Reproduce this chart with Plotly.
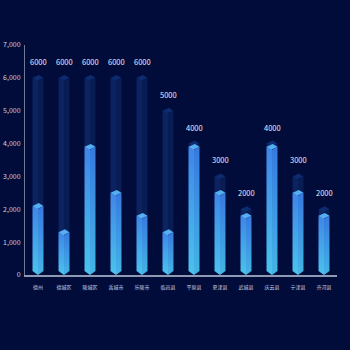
import plotly.graph_objects as go

categories = ["德州", "德城区", "陵城区", "禹城市", "乐陵市", "临邑县",
              "平原县", "夏津县", "武城县", "庆云县", "宁津县", "齐河县"]
target_values = [6000, 6000, 6000, 6000, 6000, 5000, 4000, 3000, 2000, 4000, 3000, 2000]
actual_values = [2100, 1300, 3900, 2500, 1800, 1300, 3900, 2500, 1800, 3900, 2500, 1800]
y_ticks = [0, 1000, 2000, 3000, 4000, 5000, 6000, 7000]

BG = "#020c3a"
HW = 0.21      # half width of prism in category units
CAP = 90       # cap half-height in value units
TIP = 120      # bottom tip depth in value units

fig = go.Figure()


def prism(i, v, left_scale, right_scale, cap_color, grad=True, left_col=None, right_col=None):
    lx = [i - HW, i - HW, i, i, i - HW]
    ly = [TIP, v, v - CAP, 0, TIP]
    rx = [i, i, i + HW, i + HW, i]
    ry = [0, v - CAP, v, TIP, 0]
    for xs, ys, sc, col in ((lx, ly, left_scale, left_col), (rx, ry, right_scale, right_col)):
        kw = dict(x=xs, y=ys, mode="lines", fill="toself", line=dict(width=0),
                  hoverinfo="skip", showlegend=False)
        if grad:
            kw["fillgradient"] = dict(type="vertical", colorscale=sc)
        else:
            kw["fillcolor"] = col
        fig.add_trace(go.Scatter(**kw))
    fig.add_trace(go.Scatter(
        x=[i - HW, i + 0.03, i + HW, i - 0.03, i - HW],
        y=[v, v + CAP, v, v - CAP, v],
        mode="lines", fill="toself", line=dict(width=0), fillcolor=cap_color,
        hoverinfo="skip", showlegend=False))


for i, v in enumerate(target_values):
    prism(i, v, None, None, "#0d2b6e", grad=False, left_col="#0b2461", right_col="#081d54")

for i, v in enumerate(actual_values):
    prism(i, v,
          [[0, "#4cc3ec"], [1, "#3e86e8"]],
          [[0, "#44b5e6"], [1, "#3779df"]],
          "#56aef2")

for i, v in enumerate(target_values):
    fig.add_annotation(x=i, y=v + CAP, text=str(v), showarrow=False,
                       yanchor="bottom", yshift=6,
                       font=dict(size=7.5, color="#e8edf6"))

fig.update_layout(
    width=350, height=350,
    margin=dict(l=25, r=13, t=45, b=75),
    paper_bgcolor=BG, plot_bgcolor=BG,
    font=dict(family="Noto Sans CJK SC, Noto Sans, sans-serif"),
    xaxis=dict(range=[-0.5, 11.5], tickvals=list(range(len(categories))),
               ticktext=categories, showgrid=False, zeroline=False,
               showline=True, linecolor="#8e99b3", linewidth=1.5,
               ticks="", ticklabelstandoff=6, automargin=False,
               tickfont=dict(size=5, color="#c9d1e2"), fixedrange=True),
    yaxis=dict(range=[0, 7000], tickvals=y_ticks, tickformat=",d",
               showgrid=False, zeroline=False, showline=True,
               linecolor="#6c7a98", linewidth=1, ticks="",
               ticklabelstandoff=2, automargin=False,
               tickfont=dict(size=7, color="#c9d1e2"), fixedrange=True),
)

fig.write_html("out.html")
